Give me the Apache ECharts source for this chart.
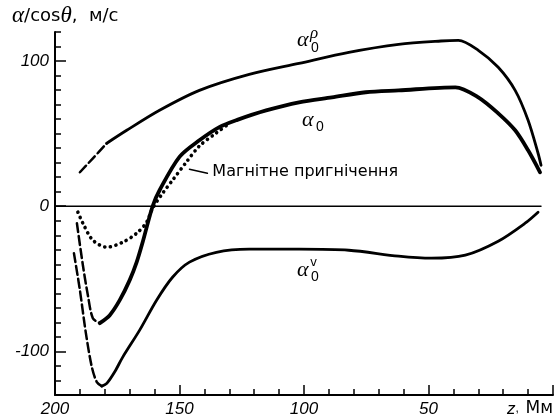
<!DOCTYPE html>
<html><head><meta charset="utf-8">
<script src="https://cdn.jsdelivr.net/npm/echarts@6/dist/echarts.min.js"></script>
<style>html,body{margin:0;padding:0;background:#fff}#c{width:556px;height:418px}</style>
</head><body><div id="c"></div>
<script>
// tick labels
const xTickLabels = [200, 150, 100, 50];
const yTickLabels = [-100, 0, 100];
// series values: [z (Mm), alpha/cos(theta) (m/s)]
const alphaRhoDashed = [[190,23.4],[184.5,33.5],[179.2,43.4]];
const alphaRhoSolid = [[179.2,43.4],[171.2,52.3],[158,66.1],[142,79.8],[122,90.8],[102,98.4],[82,106],[62,111.5],[45,113.8],[38,114.2],[30,107.4],[22,95.7],[15.2,79.8],[10,59.2],[6,36.5],[4.8,28.2]];
const alpha0Dashed = [[191.2,-11.7],[188.8,-40.6],[186.8,-61.3],[184.8,-77.1],[182,-80.5]];
const alpha0Solid = [[182,-80.5],[178,-75],[174,-64.7],[170,-50.9],[167.2,-38.5],[164.8,-24.8],[160.8,0],[158,11],[150,34],[142,45.4],[134,54.5],[126.8,59.5],[115.2,66],[102,71.6],[88.8,75],[75.2,78.5],[62,79.8],[39.2,81.9],[30,75],[22,64],[15.2,52.3],[10,38.5],[5.2,23.4]];
const alphaVDashed = [[192.4,-32.3],[190,-57.8],[187.6,-87.4],[185.2,-110.8],[183.2,-121.1],[181.2,-123.9]];
const alphaVSolid = [[181.2,-123.9],[179.2,-122],[176,-114],[172.8,-103.9],[166,-85.3],[159.2,-64.7],[152.8,-48.9],[146,-38.5],[135.2,-31.7],[122,-29.6],[102,-29.6],[82,-30.3],[62,-34.4],[48.8,-35.8],[35.2,-33.7],[22,-24.1],[11.2,-11.7],[6,-4.1]];
const suppression = [[190.8,-4.1],[188.8,-11.7],[184.8,-23.4],[179.2,-28.2],[172.8,-24.8],[167.2,-18.6],[163.2,-11],[160.8,-1.4],[156.8,8.9],[152.8,17.9],[147.2,30.5],[142,41.5],[135.2,50.5],[131.2,55.5]];
const zeroLine = [[200,0],[4.8,0]];
const leaderLine = [[146,25.5],[138.8,22.7]];
// annotation anchors (data coords)
const labelRho = [102.8, 114];
const label0 = [100.8, 59];
const labelV = [102.8, -44];
const labelSupp = [136.8, 23.4];
const suppText = 'Магнітне пригнічення';

const chart = echarts.init(document.getElementById('c'), null, {renderer:'canvas'});
const tickFont = {fontFamily:'Liberation Sans', fontStyle:'italic', fontSize:17, color:'#000'};
function line(data, width, type, extra){
  return Object.assign({type:'line', data, symbol:'none', smooth:0.3, silent:true,
    lineStyle:{color:'#000', width, type, cap:'round', join:'round'}}, extra||{});
}
chart.setOption({
  animation:false,
  grid:{left:55, right:1, top:32, bottom:23},
  xAxis:{type:'value', min:0, max:200, interval:50, inverse:true,
    axisLine:{onZero:false, lineStyle:{color:'#000', width:2}},
    axisTick:{inside:true, length:10, lineStyle:{color:'#000', width:1.5}},
    minorTick:{show:true, splitNumber:5, length:6, lineStyle:{color:'#000', width:1.5}},
    axisLabel:Object.assign({margin:6, formatter:v=> xTickLabels.indexOf(v)>=0 ? String(v) : ''}, tickFont),
    splitLine:{show:false}, minorSplitLine:{show:false}},
  yAxis:[{type:'value', min:-130, max:120, interval:10,
    axisLine:{onZero:false, lineStyle:{color:'#000', width:2}},
    axisTick:{inside:true, length:6, lineStyle:{color:'#000', width:1.5}},
    axisLabel:Object.assign({margin:6, customValues:yTickLabels}, tickFont),
    splitLine:{show:false}},
   {type:'value', min:-130, max:120, position:'left',
    axisLine:{show:false, onZero:false},
    axisTick:{inside:true, length:11, customValues:yTickLabels, lineStyle:{color:'#000', width:1.5}},
    axisLabel:{show:false}, splitLine:{show:false}}],
  series:[
    line(zeroLine, 1.3, 'solid', {smooth:false}),
    line(alphaRhoDashed, 2.5, [9,4]),
    line(alphaRhoSolid, 2.8, 'solid'),
    line(alpha0Dashed, 2.5, [9,4]),
    line(alpha0Solid, 3.8, 'solid'),
    line(alphaVDashed, 2.5, [9,4]),
    line(alphaVSolid, 2.8, 'solid'),
    line(suppression, 3.6, [0.1,5.6]),
    line(leaderLine, 1.5, 'solid', {smooth:false})
  ]
});
const px = p => chart.convertToPixel({gridIndex:0}, p);
const serifI = 'italic 22px "Liberation Serif"';
function alphaLabel(anchor, sup, supFont){
  const p = px(anchor);
  const g = [
    {type:'text', x:p[0], y:p[1], style:{text:'α', font:serifI, fill:'#000', align:'left', verticalAlign:'middle'}},
    {type:'text', x:p[0]+14, y:p[1]+7, style:{text:'0', font:'14px "Liberation Sans"', fill:'#000', align:'left', verticalAlign:'middle'}}
  ];
  if (sup) g.push({type:'text', x:p[0]+13, y:p[1]-7, style:{text:sup, font:supFont, fill:'#000', align:'left', verticalAlign:'middle'}});
  return g;
}
const ps = px(labelSupp);
const zeroPx = px([0, -130]);
chart.setOption({graphic:[].concat(
  alphaLabel(labelRho, 'ρ', 'italic 17px "Liberation Serif"'),
  alphaLabel(label0, null),
  alphaLabel(labelV, 'v', '12px "DejaVu Sans"'),
  [{type:'text', x:ps[0], y:ps[1], style:{text:suppText, font:'16px "DejaVu Sans"', fill:'#000', align:'left', verticalAlign:'middle'}},
   {type:'text', x:12, y:16, style:{text:'{s|α}{n|/cos}{s|θ}{n|,  м/с}', fill:'#000', align:'left', verticalAlign:'middle',
      rich:{s:{fontFamily:'Liberation Serif', fontStyle:'italic', fontSize:23, fill:'#000'}, n:{fontFamily:'DejaVu Sans', fontSize:18, fill:'#000'}}}},
   {type:'text', x:zeroPx[0], y:zeroPx[1]+14, style:{text:'{i|z},  {n|Мм}', fill:'#000', align:'right', verticalAlign:'middle',
      rich:{i:{fontFamily:'Liberation Sans', fontStyle:'italic', fontSize:17, fill:'#000'}, n:{fontFamily:'DejaVu Sans', fontSize:17, fill:'#000'}}}}
  ]
)});
</script></body></html>
